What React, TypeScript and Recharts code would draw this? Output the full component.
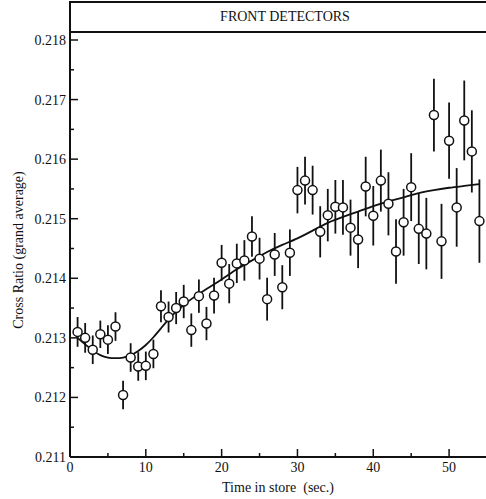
import { ComposedChart, Scatter, Line, XAxis, YAxis, ErrorBar } from "recharts";

// measured points: time in store (s), cross ratio, 1-sigma error
const time = [
  1, 2, 3, 4, 5, 6, 7, 8, 9, 10, 11, 12, 13, 14, 15, 16, 17, 18, 19, 20, 21, 22, 23, 24, 25, 26, 27,
  28, 29, 30, 31, 32, 33, 34, 35, 36, 37, 38, 39, 40, 41, 42, 43, 44, 45, 46, 47, 48, 49, 50, 51, 52,
  53, 54,
];
const ratio = [
  0.2131, 0.213, 0.2128, 0.21306, 0.21297, 0.21319, 0.21204, 0.21267, 0.21252, 0.21253, 0.21273,
  0.21353, 0.21335, 0.2135, 0.21361, 0.21313, 0.2137, 0.21324, 0.21371, 0.21426, 0.21391, 0.21425,
  0.2143, 0.2147, 0.21433, 0.21365, 0.2144, 0.21385, 0.21443, 0.21548, 0.21564, 0.21548, 0.21478,
  0.21506, 0.2152, 0.21519, 0.21485, 0.21465, 0.21554, 0.21505, 0.21564, 0.21525, 0.21445, 0.21494,
  0.21553, 0.21483, 0.21475, 0.21674, 0.21462, 0.21631, 0.21519, 0.21665, 0.21613, 0.21496,
];
const sigma = [
  0.00025, 0.00025, 0.00024, 0.00023, 0.00024, 0.00024, 0.00024, 0.00024, 0.00024, 0.00024, 0.00024,
  0.00027, 0.00026, 0.00027, 0.00028, 0.00028, 0.00028, 0.00028, 0.0003, 0.0003, 0.00033, 0.00033,
  0.00034, 0.00034, 0.00035, 0.00036, 0.00036, 0.00037, 0.00039, 0.00039, 0.0004, 0.00041, 0.00043,
  0.00044, 0.00045, 0.00046, 0.00047, 0.00048, 0.0005, 0.0005, 0.00052, 0.00053, 0.00054, 0.00056,
  0.00057, 0.00059, 0.0006, 0.00061, 0.00063, 0.00064, 0.00066, 0.00067, 0.00069, 0.0007,
];

// fitted curve
const fitTime = [1, 2, 3, 4, 5, 6, 7, 8, 9, 10, 11, 12, 13, 14, 15, 16, 18, 20, 22, 24, 26, 28, 30, 32, 34, 36, 38, 40, 42, 44, 46, 48, 50, 52, 54];
const fitRatio = [
  0.213, 0.21289, 0.21279, 0.21271, 0.21267, 0.21266, 0.21267, 0.21271, 0.21278, 0.21288, 0.21301,
  0.21316, 0.21331, 0.21344, 0.21355, 0.21365, 0.21382, 0.21398, 0.21415, 0.2143, 0.21444, 0.21456,
  0.21467, 0.2148, 0.21493, 0.21503, 0.21512, 0.21521, 0.21529, 0.21536, 0.21543, 0.21548, 0.21552,
  0.21555, 0.21558,
];

const xTicks = [0, 5, 10, 15, 20, 25, 30, 35, 40, 45, 50];
const yTicks = [0.211, 0.2115, 0.212, 0.2125, 0.213, 0.2135, 0.214, 0.2145, 0.215, 0.2155, 0.216, 0.2165, 0.217, 0.2175, 0.218];

const points = time.map((t, i) => ({ t, v: ratio[i], e: sigma[i] }));
const fit = fitTime.map((t, i) => ({ t, v: fitRatio[i] }));

const FONT = "'Liberation Serif', 'Times New Roman', serif";
const INK = "#111";

const majorX = (v: number) => v % 10 === 0;
const majorY = (v: number) => Math.abs(v * 1000 - Math.round(v * 1000)) < 1e-6;

const BottomTick = ({ x, y, payload }: any) => {
  const big = majorX(payload.value);
  return (
    <g>
      <line x1={x} y1={y} x2={x} y2={y - (big ? 8 : 4)} stroke={INK} strokeWidth={1.5} />
      {big && (
        <text x={x} y={y + 15} textAnchor="middle" fontSize={14} fontFamily={FONT} fill={INK}>
          {payload.value}
        </text>
      )}
    </g>
  );
};

const TopTick = ({ x, y, payload }: any) => (
  <line x1={x} y1={y} x2={x} y2={y + (majorX(payload.value) ? 8 : 4)} stroke={INK} strokeWidth={1.5} />
);

const LeftTick = ({ x, y, payload }: any) => {
  const big = majorY(payload.value);
  return (
    <g>
      <line x1={x} y1={y} x2={x + (big ? 8 : 4)} y2={y} stroke={INK} strokeWidth={1.5} />
      {big && (
        <text x={x - 4} y={y + 5} textAnchor="end" fontSize={14} fontFamily={FONT} fill={INK}>
          {payload.value.toFixed(3)}
        </text>
      )}
    </g>
  );
};

const RightTick = ({ x, y, payload }: any) => (
  <line x1={x} y1={y} x2={x - (majorY(payload.value) ? 8 : 4)} y2={y} stroke={INK} strokeWidth={1.5} />
);

const Dot = (p: any) => <circle cx={p.cx} cy={p.cy} r={4.5} fill="#fff" stroke={INK} strokeWidth={1.5} />;

export default function App() {
  const axisLine = { stroke: INK, strokeWidth: 2 };
  return (
    <div style={{ position: "fixed", left: 0, top: 0, width: 486, height: 499, overflow: "hidden", background: "#fff" }}>
      <div
        style={{
          position: "absolute",
          left: 69,
          top: 1,
          width: 430,
          height: 32,
          borderTop: `2px solid ${INK}`,
          borderBottom: `2px solid ${INK}`,
          borderLeft: `2px solid ${INK}`,
          boxSizing: "border-box",
          fontFamily: FONT,
          fontSize: 14,
          color: INK,
          display: "flex",
          alignItems: "center",
          justifyContent: "center",
        }}
      >
        FRONT DETECTORS
      </div>
      <div style={{ position: "absolute", left: 69, top: 32, width: 2, height: 10, background: INK }} />
      <ComposedChart width={490} height={499} margin={{ top: 40, right: 3, bottom: 0, left: 0 }}>
        <XAxis
          dataKey="t"
          type="number"
          domain={[0, 55]}
          ticks={xTicks}
          interval={0}
          tickSize={0}
          tickMargin={0}
          tickLine={false}
          tick={BottomTick}
          axisLine={axisLine}
          height={42}
          allowDataOverflow
          label={() => (
            <text x={278} y={492} textAnchor="middle" fontSize={14} fontFamily={FONT} fill={INK}>
              Time in store{"\u00A0 "}(sec.)
            </text>
          )}
        />
        <XAxis
          xAxisId="top"
          orientation="top"
          type="number"
          domain={[0, 55]}
          ticks={xTicks}
          interval={0}
          tickSize={0}
          tickMargin={0}
          tickLine={false}
          tick={TopTick}
          axisLine={axisLine}
          height={0}
          allowDataOverflow
        />
        <YAxis
          dataKey="v"
          type="number"
          domain={[0.211, 0.218]}
          ticks={yTicks}
          interval={0}
          tickSize={0}
          tickMargin={0}
          tickLine={false}
          tick={LeftTick}
          axisLine={axisLine}
          width={70}
          allowDataOverflow
          label={() => (
            <text
              x={18}
              y={250}
              transform="rotate(-90 18 250)"
              textAnchor="middle"
              dominantBaseline="central"
              fontSize={14}
              fontFamily={FONT}
              fill={INK}
            >
              Cross Ratio (grand average)
            </text>
          )}
        />
        <YAxis
          yAxisId="right"
          orientation="right"
          type="number"
          domain={[0.211, 0.218]}
          ticks={yTicks}
          interval={0}
          tickSize={0}
          tickMargin={0}
          tickLine={false}
          tick={RightTick}
          axisLine={axisLine}
          width={0}
          allowDataOverflow
        />
        <Line
          data={fit}
          dataKey="v"
          type="natural"
          dot={false}
          stroke={INK}
          strokeWidth={1.8}
          isAnimationActive={false}
        />
        <Scatter data={points} dataKey="v" shape={Dot} isAnimationActive={false}>
          <ErrorBar dataKey="e" direction="y" width={0} stroke={INK} strokeWidth={1.8} isAnimationActive={false} />
        </Scatter>
      </ComposedChart>
    </div>
  );
}
